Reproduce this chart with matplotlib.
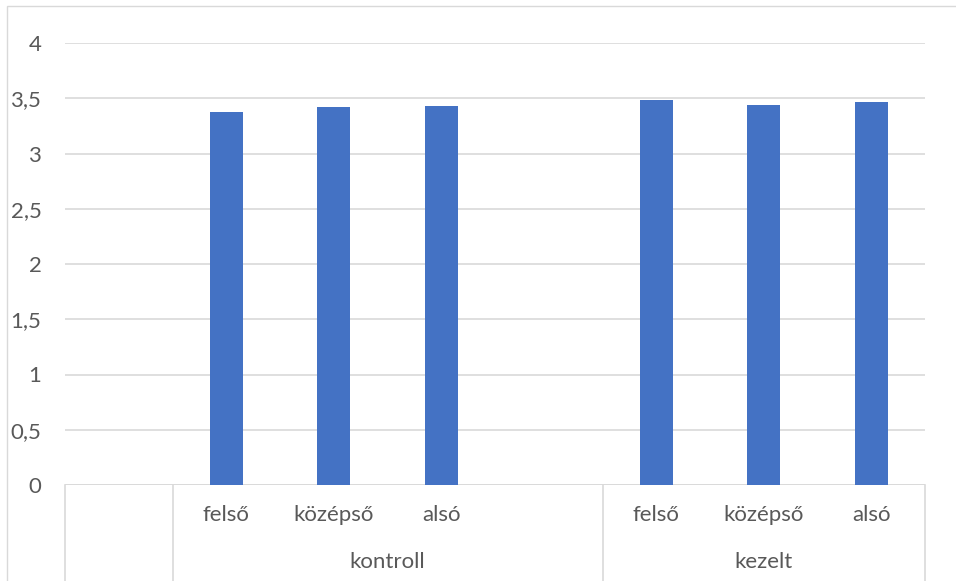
import matplotlib.pyplot as plt
import matplotlib.transforms as mtransforms
from matplotlib.patches import Rectangle
import numpy as np

# category axis: inner labels and outer group labels (blank slots kept as in the sheet)
categories = ["", "felső", "középső", "alsó", "", "felső", "középső", "alsó"]
values = [np.nan, 3.38, 3.42, 3.43, np.nan, 3.48, 3.44, 3.47]
groups = ["", "kontroll", "kezelt"]
group_sizes = [1, 4, 3]
yticks = [0, 0.5, 1, 1.5, 2, 2.5, 3, 3.5, 4]

plt.rcParams['font.family'] = ['Lato', 'DejaVu Sans']
txt_color = '#595959'
grid_color = '#d9d9d9'
fsize = 16

fig = plt.figure(figsize=(9.56, 5.81), dpi=100)
W, H = 956, 581
ax = fig.add_axes([65 / W, 96 / H, 860 / W, 442 / H])

# chart border
fig.patches.append(Rectangle((7 / W, -0.1), 1.0, (H - 6) / H + 0.1, transform=fig.transFigure,
                             fill=False, edgecolor=grid_color, linewidth=1.0))

x = np.arange(len(categories))
ax.bar(x, values, width=0.31, color='#4472C4', zorder=3)

ax.set_xlim(-0.5, len(categories) - 0.5)
ax.set_ylim(0, 4)
ax.set_yticks(yticks)
ax.set_yticklabels([("%g" % v).replace(".", ",") for v in yticks])
ax.tick_params(axis='y', length=0, pad=17, labelsize=fsize, labelcolor=txt_color)
ax.set_xticks([])
ax.yaxis.grid(True, color=grid_color, linewidth=1.2, zorder=0)
for s in ax.spines.values():
    s.set_visible(False)
ax.axhline(0, color=grid_color, linewidth=1.2, zorder=2)

trans = mtransforms.blended_transform_factory(ax.transData, ax.transAxes)
px = 1 / 442  # one pixel in axes height units

for xi, lab in zip(x, categories):
    if lab:
        ax.text(xi, -30 * px, lab, transform=trans, ha='center', va='center',
                fontsize=fsize, color=txt_color)

# group labels and separators
start = -0.5
ax.plot([start, start], [0, -100 * px], transform=trans, color=grid_color,
        linewidth=1.2, clip_on=False)
for g, n in zip(groups, group_sizes):
    end = start + n
    ax.plot([end, end], [0, -100 * px], transform=trans, color=grid_color,
            linewidth=1.2, clip_on=False)
    if g:
        ax.text((start + end) / 2, -77 * px, g, transform=trans, ha='center',
                va='center', fontsize=fsize, color=txt_color)
    start = end

fig.savefig("out.png", dpi=100)
